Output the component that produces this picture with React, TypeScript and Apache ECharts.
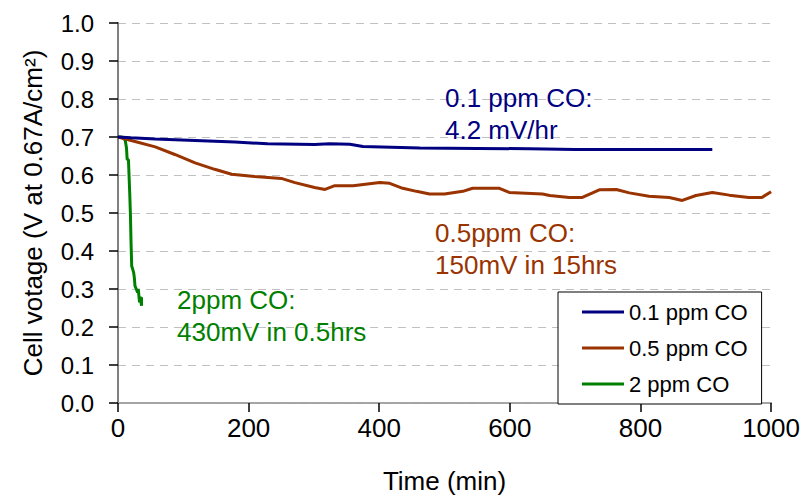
import React, { useEffect, useRef } from "react";
import * as echarts from "echarts";

const seriesNames = ["0.1 ppm CO", "0.5 ppm CO", "2 ppm CO"];
const seriesColors = ["#000080", "#993300", "#008000"];

const blueTimes = [0, 20, 57, 118, 179, 229, 301, 324, 355, 375, 462, 550, 630, 700, 800, 910];
const blueValues = [0.700, 0.698, 0.695, 0.691, 0.687, 0.682, 0.680, 0.682, 0.681, 0.675, 0.671, 0.670, 0.669, 0.667, 0.667, 0.667];

const orangeTimes = [0, 10, 26, 57, 87, 118, 148, 174, 209, 250, 271, 301, 317, 332, 360, 401, 416, 436, 457, 477, 500, 528, 543, 584, 599, 650, 661, 691, 711, 737, 763, 783, 813, 844, 864, 885, 910, 936, 966, 986, 1000];
const orangeValues = [0.700, 0.695, 0.688, 0.674, 0.654, 0.632, 0.615, 0.602, 0.596, 0.591, 0.580, 0.567, 0.562, 0.572, 0.572, 0.580, 0.578, 0.565, 0.557, 0.550, 0.550, 0.557, 0.565, 0.565, 0.554, 0.550, 0.546, 0.541, 0.541, 0.561, 0.562, 0.553, 0.544, 0.541, 0.533, 0.546, 0.554, 0.547, 0.541, 0.541, 0.556];

const greenTimes = [0, 6, 11, 13, 14, 16, 18, 19, 20, 21, 22, 24, 25, 26, 28, 30, 31, 33, 34, 36, 36];
const greenValues = [0.700, 0.700, 0.692, 0.671, 0.641, 0.640, 0.550, 0.498, 0.420, 0.360, 0.355, 0.343, 0.330, 0.308, 0.300, 0.291, 0.300, 0.265, 0.280, 0.256, 0.278];

const annotations = [
  { lines: ["0.1 ppm CO:", "4.2 mV/hr"], color: "#000080", left: 445, top: 82 },
  { lines: ["0.5ppm CO:", "150mV in 15hrs"], color: "#993300", left: 435, top: 217 },
  { lines: ["2ppm CO:", "430mV in 0.5hrs"], color: "#008000", left: 177, top: 284 },
];

const FONT = "'Liberation Sans', Arial, sans-serif";

function zip(t: number[], v: number[]) {
  return t.map((x, i) => [x, v[i]]);
}

export default function App() {
  const ref = useRef<HTMLDivElement>(null);
  useEffect(() => {
    if (!ref.current) return;
    const chart = echarts.init(ref.current, undefined, { renderer: "svg" });
    const data = [zip(blueTimes, blueValues), zip(orangeTimes, orangeValues), zip(greenTimes, greenValues)];
    chart.setOption({
      animation: false,
      backgroundColor: "#ffffff",
      grid: { left: 118, right: 31, top: 23, bottom: 90, containLabel: false },
      xAxis: [
        {
          type: "value",
          min: 0,
          max: 1000,
          interval: 200,
          name: "Time (min)",
          nameLocation: "middle",
          nameGap: 65,
          nameTextStyle: { fontFamily: FONT, fontSize: 26, color: "#000" },
          axisLine: { show: true, lineStyle: { color: "#000", width: 1.5 } },
          axisTick: { show: true, length: 9, lineStyle: { color: "#000", width: 1.5 } },
          axisLabel: { fontFamily: FONT, fontSize: 26, color: "#000", margin: 12, formatter: (v: number) => String(v) },
          splitLine: { show: false },
        },
        {
          type: "value",
          position: "top",
          min: 0,
          max: 1000,
          axisLine: { show: true, lineStyle: { color: "#c8c8c8", width: 1.5 } },
          axisTick: { show: false },
          axisLabel: { show: false },
          splitLine: { show: false },
        },
      ],
      yAxis: [
        {
          type: "value",
          min: 0,
          max: 1,
          interval: 0.1,
          name: "Cell votage (V at 0.67A/cm²)",
          nameLocation: "middle",
          nameGap: 72,
          nameTextStyle: { fontFamily: FONT, fontSize: 26, color: "#000" },
          axisLine: { show: true, lineStyle: { color: "#000", width: 1.5 } },
          axisTick: { show: true, length: 9, lineStyle: { color: "#000", width: 1.5 } },
          axisLabel: {
            fontFamily: FONT,
            fontSize: 24,
            color: "#000",
            margin: 24,
            formatter: (v: number) => v.toFixed(1),
          },
          splitLine: { show: true, lineStyle: { color: "#c0c0c0", type: [8, 6], width: 1 } },
        },
        {
          type: "value",
          position: "right",
          min: 0,
          max: 1,
          axisLine: { show: true, lineStyle: { color: "#808080", width: 2 } },
          axisTick: { show: false },
          axisLabel: { show: false },
          splitLine: { show: false },
        },
      ],
      legend: {
        orient: "vertical",
        left: 558,
        top: 292,
        width: 205,
        padding: [9, 14, 9, 24],
        itemGap: 14,
        itemWidth: 42,
        itemHeight: 3,
        icon: "rect",
        backgroundColor: "#ffffff",
        borderColor: "#000000",
        borderWidth: 1,
        textStyle: { fontFamily: FONT, fontSize: 22, color: "#000" },
        data: seriesNames,
      },
      series: seriesNames.map((name, i) => ({
        name,
        type: "line",
        data: data[i],
        showSymbol: false,
        symbol: "none",
        lineStyle: { color: seriesColors[i], width: 3 },
        itemStyle: { color: seriesColors[i] },
        z: 5 - i,
      })),
      graphic: annotations.map((a) => ({
        type: "text",
        left: a.left,
        top: a.top,
        z: 100,
        style: {
          text: a.lines.join("\n"),
          fill: a.color,
          font: `26px ${FONT}`,
          lineHeight: 32,
        },
      })),
    });
    return () => chart.dispose();
  }, []);
  return (
    <div
      ref={ref}
      style={{ position: "fixed", left: 0, top: 0, width: 803, height: 499 }}
    />
  );
}
